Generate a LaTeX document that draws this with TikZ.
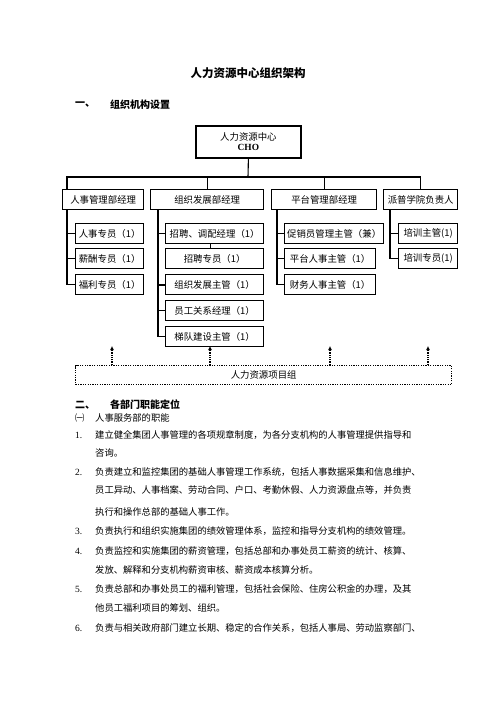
\documentclass[tikz,border=0pt]{standalone}
\usepackage{fontspec}
\setmainfont{Liberation Serif}
\newfontfamily\cjk{Noto Sans CJK SC}
\usetikzlibrary{arrows.meta}

\begin{document}
\begin{tikzpicture}[x=1pt,y=1pt,yscale=-1,xscale=1,
  box/.style={draw, line width=1.3pt, minimum height=20pt, inner sep=1pt, anchor=north west, font=\cjk\fontsize{9.4}{11}\selectfont},
  link/.style={line width=1.1pt},
  body/.style={anchor=west, inner sep=0pt, font=\cjk\fontsize{9.3}{11}\selectfont},
  num/.style={anchor=west, inner sep=0pt, font=\fontsize{9.5}{11}\selectfont},
  head/.style={anchor=west, inner sep=0pt, font=\cjk\bfseries\fontsize{10}{12}\selectfont},
  uparrow/.style={densely dotted, line width=1.3pt, -{Latex[length=4pt,width=4pt]}}]
\path[fill=white] (0,0) rectangle (496,702);

% Text Node
\node[inner sep=0pt, font=\cjk\bfseries\fontsize{11.5}{13}\selectfont] (title) at (248,73) {人力资源中心组织架构};
% Text Node
\node[head] (h1n) at (75,105) {一、};
\node[head] (h1) at (110,105) {组织机构设置};

%Shape: Rectangle
\node[box, line width=1.8pt, minimum width=105pt, minimum height=32pt, align=center] (cho) at (195,125) {人力资源中心\\[-1pt]{\rmfamily\bfseries CHO}};

%Shape: Rectangle
\node[box, minimum width=81pt] (d1) at (62,189) {人事管理部经理};
\node[box, minimum width=113pt] (d2) at (150,189) {组织发展部经理};
\node[box, minimum width=105pt] (d3) at (271,189) {平台管理部经理};
\node[box, minimum width=74pt] (d4) at (383,189) {派普学院负责人};

%Straight Lines
\coordinate (bus) at (248,177);
\draw[link] (cho.south) -- (bus);
\draw[link] ([xshift=5pt]d1.north west) |- (bus) -| (d4.north);
\draw[link] (d2.north) -- (d2.north |- bus);
\draw[link] (d3.north) -- (d3.north |- bus);

%Shape: Rectangle
\node[box, minimum width=68pt] (a1) at (75,223) {人事专员（1）};
\node[box, minimum width=68pt] (a2) at (75,248) {薪酬专员（1）};
\node[box, minimum width=68pt] (a3) at (75,274) {福利专员（1）};

\node[box, minimum width=98pt] (b1) at (165,223) {招聘、调配经理（1）};
\node[box, minimum width=98pt] (b2) at (165,248) {招聘专员（1）};
\node[box, minimum width=98pt] (b3) at (165,274) {组织发展主管（1）};
\node[box, minimum width=98pt] (b4) at (165,300) {员工关系经理（1）};
\node[box, minimum width=98pt] (b5) at (165,326) {梯队建设主管（1）};

\node[box, minimum width=99pt, inner sep=0.5pt] (c1) at (284,223) {促销员管理主管（兼）};
\node[box, minimum width=91pt] (c2) at (284,248) {平台人事主管（1）};
\node[box, minimum width=91pt] (c3) at (284,274) {财务人事主管（1）};

\node[box, minimum width=59pt] (e1) at (398,223) {培训主管(1)};
\node[box, minimum width=59pt] (e2) at (398,248) {培训专员(1)};

%Straight Lines
\coordinate (col1) at ([xshift=5pt]d1.south west);
\draw[link] (col1) |- (a3.west);
\draw[link] (a1.west) -- (a1.west -| col1);
\draw[link] (a2.west) -- (a2.west -| col1);

\coordinate (col2) at ([xshift=8pt]d2.south west);
\draw[link] (col2) |- (b5.west);
\draw[link] (b1.west) -- (b1.west -| col2);
\draw[link, line width=1.8pt] (b3.west) -- (b3.west -| col2);
\draw[link] (b4.west) -- (b4.west -| col2);
\draw[link] ([xshift=-4pt]b1.south) -- ([xshift=-4pt]b2.north);

\coordinate (col3) at ([xshift=6pt]d3.south west);
\draw[link] (col3) |- (c3.west);
\draw[link] (c1.west) -- (c1.west -| col3);
\draw[link] (c2.west) -- (c2.west -| col3);

\coordinate (col4) at ([xshift=7pt]d4.south west);
\draw[link] (col4) |- (e2.west);
\draw[link] (e1.west) -- (e1.west -| col4);

%Shape: Rectangle
\node[draw, dash pattern=on 1.2pt off 1.2pt, line width=1.3pt, minimum width=376pt, minimum height=19pt, anchor=north west, inner sep=1pt, font=\cjk\fontsize{9.4}{11}\selectfont] (grp) at (75,365) {人力资源项目组};

%Straight Lines
\coordinate (up1) at (112,346);
\coordinate (up2) at (210,346);
\coordinate (up3) at (330,346);
\coordinate (up4) at (428,346);
\draw[uparrow] (grp.north -| up1) -- (up1);
\draw[uparrow] (grp.north -| up2) -- (up2);
\draw[uparrow] (grp.north -| up3) -- (up3);
\draw[uparrow] (grp.north -| up4) -- (up4);

% Text Node
\node[head] (h2n) at (75,405) {二、};
\node[head] (h2) at (110,405) {各部门职能定位};
\node[body] (s1n) at (75,418) {㈠};
\node[body] (s1) at (95,418) {人事服务部的职能};

\node[num] (n1) at (75,435) {1.};
\node[body] (t1) at (95,435) {建立健全集团人事管理的各项规章制度，为各分支机构的人事管理提供指导和};
\node[body] (t1b) at (95,453) {咨询。};
\node[num] (n2) at (75,472) {2.};
\node[body] (t2) at (95,472) {负责建立和监控集团的基础人事管理工作系统，包括人事数据采集和信息维护、};
\node[body] (t2b) at (95,490) {员工异动、人事档案、劳动合同、户口、考勤休假、人力资源盘点等，并负责};
\node[body] (t2c) at (95,512) {执行和操作总部的基础人事工作。};
\node[num] (n3) at (75,531) {3.};
\node[body] (t3) at (95,531) {负责执行和组织实施集团的绩效管理体系，监控和指导分支机构的绩效管理。};
\node[num] (n4) at (75,551) {4.};
\node[body] (t4) at (95,551) {负责监控和实施集团的薪资管理，包括总部和办事处员工薪资的统计、核算、};
\node[body] (t4b) at (95,570) {发放、解释和分支机构薪资审核、薪资成本核算分析。};
\node[num] (n5) at (75,589) {5.};
\node[body] (t5) at (95,589) {负责总部和办事处员工的福利管理，包括社会保险、住房公积金的办理，及其};
\node[body] (t5b) at (95,608) {他员工福利项目的筹划、组织。};
\node[num] (n6) at (75,628) {6.};
\node[body] (t6) at (95,628) {负责与相关政府部门建立长期、稳定的合作关系，包括人事局、劳动监察部门、};
\end{tikzpicture}
\end{document}
